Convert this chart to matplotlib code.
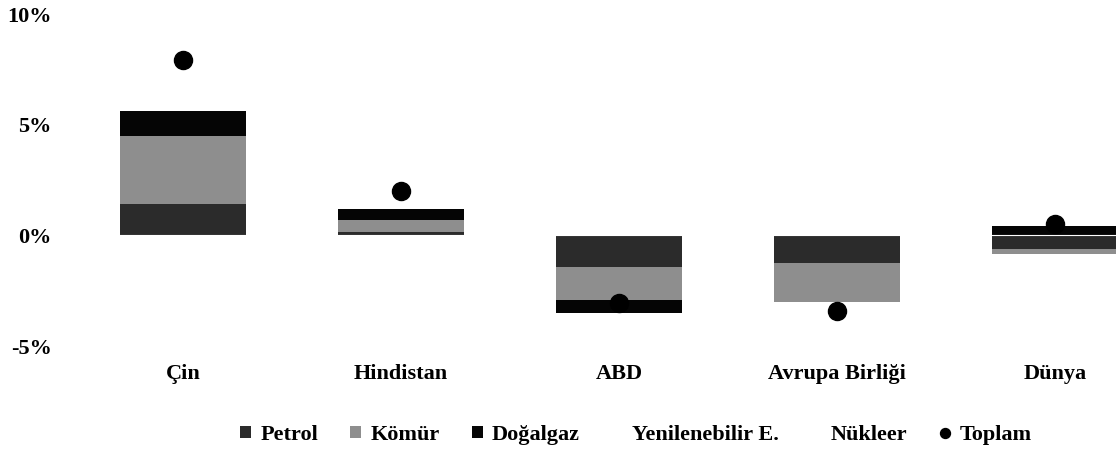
import numpy as np
import matplotlib
matplotlib.use("Agg")
import matplotlib.pyplot as plt

plt.rcParams['font.family'] = ['Liberation Serif', 'DejaVu Serif']
plt.rcParams['font.weight'] = 'bold'

# degerler (%)
ulkeler = ['Çin', 'Hindistan', 'ABD', 'Avrupa Birliği', 'Dünya']
petrol = [1.4, 0.15, -1.45, -1.25, -0.6]
komur = [3.1, 0.55, -1.45, -1.75, -0.26]
dogalgaz = [1.1, 0.5, -0.6, 0.0, 0.4]
yenilenebilir = [1.7, 0.5, 0.35, 0.2, 0.7]
nukleer = [0.6, 0.3, 0.1, -0.6, 0.26]
toplam = [7.9, 2.0, -3.05, -3.4, 0.5]

y_ticks = [-5, 0, 5, 10]
y_labels = ['-5%', '0%', '5%', '10%']

seriler = [('Petrol', petrol, '#2b2b2b'),
           ('Kömür', komur, '#8e8e8e'),
           ('Doğalgaz', dogalgaz, '#050505'),
           ('Yenilenebilir E.', yenilenebilir, '#ffffff'),
           ('Nükleer', nukleer, '#ffffff')]

fig = plt.figure(figsize=(11.16, 4.53), dpi=100)
ax = fig.add_axes([74/1116, 1 - 346/453, 1090/1116, 332/453])

x = np.arange(len(ulkeler))
pos = np.zeros(len(ulkeler))
neg = np.zeros(len(ulkeler))
handles = []
for ad, deger, renk in seriler:
    d = np.array(deger)
    alt = np.where(d >= 0, pos, neg)
    b = ax.bar(x, d, 0.58, bottom=alt, color=renk, label=ad, edgecolor='none')
    handles.append(b)
    pos = pos + np.where(d >= 0, d, 0)
    neg = neg + np.where(d < 0, d, 0)

# Dunya'da sifir cizgisi beyaz gorunuyor
ax.axhline(0, color='white', lw=0.8, zorder=3)

t, = ax.plot(x, toplam, 'o', color='black', markersize=13, label='Toplam', zorder=4)
handles.append(t)

ax.set_xlim(-0.5, len(ulkeler) - 0.5)
ax.set_ylim(-5, 10)
ax.set_yticks(y_ticks)
ax.set_yticklabels(y_labels)
ax.set_xticks(x)
ax.set_xticklabels(ulkeler)
ax.tick_params(axis='both', length=0, labelsize=16)
ax.tick_params(axis='x', pad=13)
ax.tick_params(axis='y', pad=16)
for s in ax.spines.values():
    s.set_visible(False)

fig.legend(handles, [h.get_label() for h in handles], loc='center',
           bbox_to_anchor=(636/1116, 1 - 435/453),
           ncol=6, frameon=False, fontsize=16, handlelength=0.5,
           handleheight=0.5, handletextpad=0.4, columnspacing=1.45,
           markerscale=0.55)

fig.savefig('out.png', dpi=100)
